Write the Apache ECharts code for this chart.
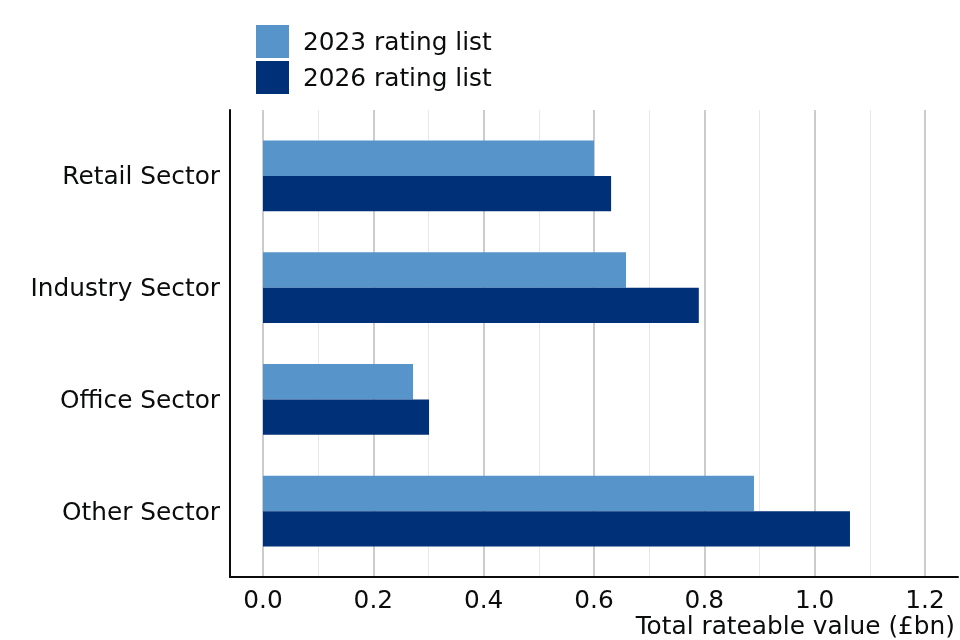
<!DOCTYPE html>
<html>
<head>
<meta charset="utf-8">
<script src="https://cdn.jsdelivr.net/npm/echarts@6/dist/echarts.min.js"></script>
<style>html,body{margin:0;padding:0;background:#fff}#c{width:960px;height:640px}</style>
</head>
<body>
<div id="c"></div>
<script>
const categories = ['Retail Sector', 'Industry Sector', 'Office Sector', 'Other Sector'];
const seriesNames = ['2023 rating list', '2026 rating list'];
const values2023 = [0.600, 0.658, 0.272, 0.890];
const values2026 = [0.631, 0.790, 0.301, 1.064];
const axisTitle = 'Total rateable value (£bn)';

const font = 'DejaVu Sans';
const fs = 24.8;
const shifted = { fontFamily: font, fontSize: fs, color: '#0b0c0c', padding: [4, 0, 0, 0] };
const chart = echarts.init(document.getElementById('c'));
chart.setOption({
  animation: false,
  textStyle: { fontFamily: font },
  title: {
    text: axisTitle, right: 5, top: 615, padding: 0,
    textStyle: { fontFamily: font, fontSize: fs, fontWeight: 'normal', color: '#0b0c0c' }
  },
  legend: {
    orient: 'vertical', left: 251, top: 20, itemWidth: 33, itemHeight: 33, itemGap: 3,
    icon: 'rect', data: seriesNames,
    formatter: n => '{s|' + n + '}',
    textStyle: { fontFamily: font, fontSize: fs, color: '#0b0c0c', padding: [0, 0, 0, 9],
      rich: { s: shifted } }
  },
  grid: [
    { left: 230, right: 2, top: 110, bottom: 63 },
    { left: 263, right: 35, top: 110, bottom: 63 },
    { left: 263, right: 35, top: 120, bottom: 73 }
  ],
  xAxis: [
    { gridIndex: 0, type: 'value', min: -0.06, max: 1.26,
      axisLine: { show: true, onZero: false, lineStyle: { color: '#0b0c0c', width: 2 } },
      axisTick: { show: false }, axisLabel: { show: false }, splitLine: { show: false } },
    { gridIndex: 1, type: 'value', min: 0, max: 1.2, interval: 0.2,
      axisLine: { show: false }, axisTick: { show: false },
      axisLabel: { fontFamily: font, fontSize: fs, color: '#0b0c0c', margin: 12,
        formatter: v => v.toFixed(1) },
      splitLine: { show: true, lineStyle: { color: '#cccccc', width: 2 } },
      minorTick: { show: false, splitNumber: 2 },
      minorSplitLine: { show: true, lineStyle: { color: '#e8e8e8', width: 1 } } },
    { gridIndex: 2, type: 'value', min: 0, max: 1.2, show: false }
  ],
  yAxis: [
    { gridIndex: 0, type: 'category', data: categories,
      axisLine: { show: true, onZero: false, lineStyle: { color: '#0b0c0c', width: 2 } },
      axisTick: { show: false }, axisLabel: { show: false }, splitLine: { show: false } },
    { gridIndex: 1, type: 'category', data: categories, show: false },
    { gridIndex: 2, type: 'category', data: categories, inverse: true,
      axisLine: { show: false }, axisTick: { show: false },
      axisLabel: { fontFamily: font, fontSize: fs, color: '#0b0c0c', margin: 43,
        formatter: v => '{s|' + v + '}', rich: { s: shifted } } }
  ],
  series: [
    { name: seriesNames[0], type: 'bar', xAxisIndex: 2, yAxisIndex: 2, data: values2023,
      itemStyle: { color: '#5694ca' }, barGap: '0%', barCategoryGap: '36.5%', z: 5 },
    { name: seriesNames[1], type: 'bar', xAxisIndex: 2, yAxisIndex: 2, data: values2026,
      itemStyle: { color: '#003078' }, barGap: '0%', barCategoryGap: '36.5%', z: 5 }
  ]
});
</script>
</body>
</html>
